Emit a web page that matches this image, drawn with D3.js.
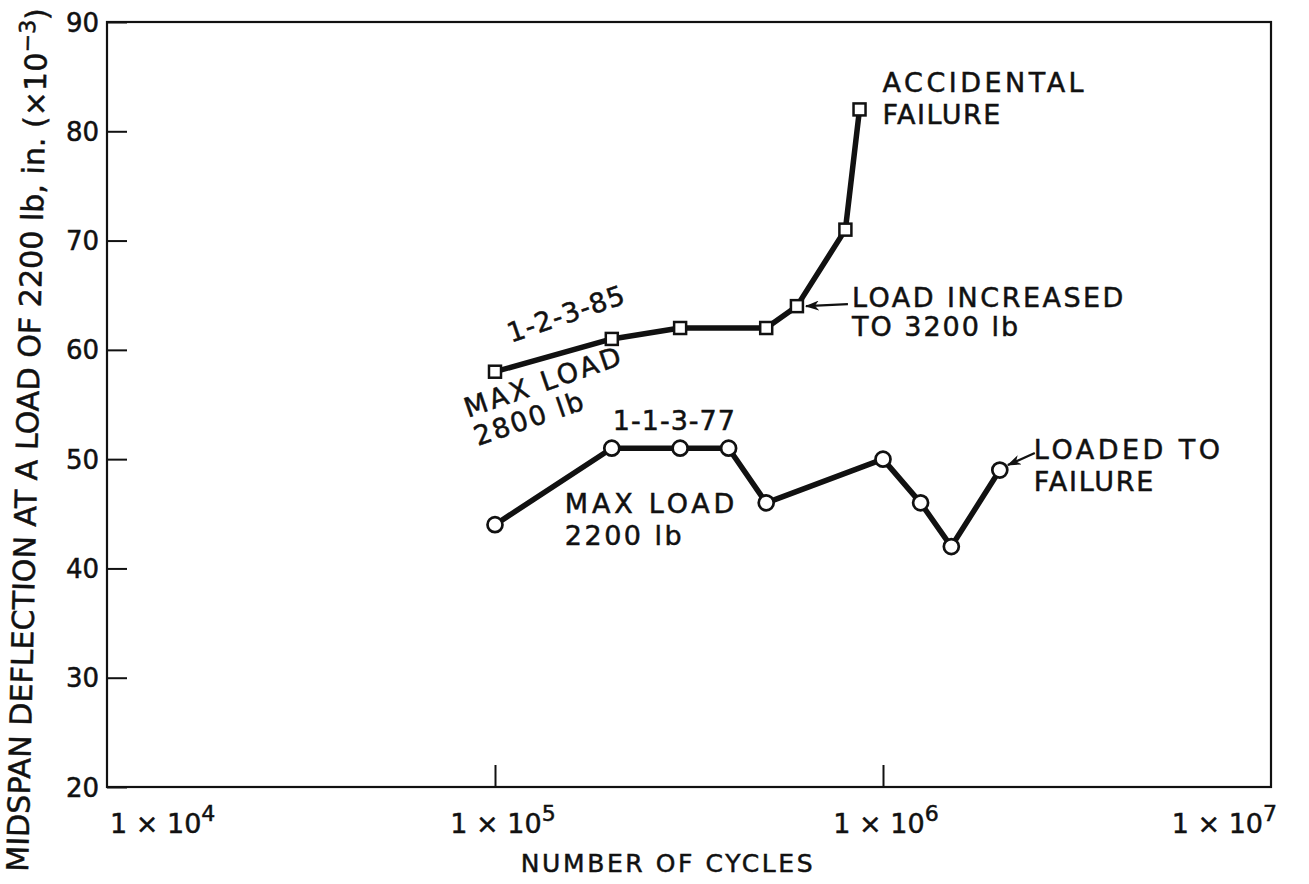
<!DOCTYPE html>
<html>
<head>
<meta charset="utf-8">
<script src="https://cdn.jsdelivr.net/npm/d3@7"></script>
<style>
  html, body { margin: 0; padding: 0; background: #fff; }
  svg text { font-family: "DejaVu Sans", sans-serif; fill: #111; stroke: #111; stroke-width: 0.5px; }
</style>
</head>
<body>
<div id="chart"></div>
<script>
// specimen 1-2-3-85 (max load 2800 lb, squares)
const cyclesA = [1e5, 2e5, 3e5, 5e5, 6e5, 8e5, 8.7e5];
const deflA = [58, 61, 62, 62, 64, 71, 82];

// specimen 1-1-3-77 (max load 2200 lb, circles)
const cyclesB = [1e5, 2e5, 3e5, 4e5, 5e5, 1e6, 1.25e6, 1.5e6, 2e6];
const deflB = [44, 51, 51, 51, 46, 50, 46, 42, 49];

const xTickValues = [1e4, 1e5, 1e6, 1e7];
const xTickExp = ["4", "5", "6", "7"];
const yTickValues = [20, 30, 40, 50, 60, 70, 80, 90];

const width = 1309, height = 884;
const plotLeft = 107, plotRight = 1271, plotTop = 22, plotBottom = 787;

const svg = d3.select("#chart")
  .append("svg")
  .attr("width", width)
  .attr("height", height)
  .attr("viewBox", `0 0 ${width} ${height}`);

const x = d3.scaleLog().domain([1e4, 1e7]).range([plotLeft, plotRight]);
const y = d3.scaleLinear().domain([20, 90]).range([plotBottom, plotTop]);

// frame
svg.append("rect")
  .attr("x", plotLeft).attr("y", plotTop)
  .attr("width", plotRight - plotLeft).attr("height", plotBottom - plotTop)
  .attr("fill", "none").attr("stroke", "#111").attr("stroke-width", 2.2);

// y axis, ticks inside
const yAxis = svg.append("g")
  .attr("transform", `translate(${plotLeft},0)`)
  .call(d3.axisLeft(y).tickValues(yTickValues).tickSize(-20).tickSizeOuter(0).tickPadding(8));
yAxis.select(".domain").remove();
yAxis.selectAll("line").attr("stroke", "#111").attr("stroke-width", 2);
yAxis.selectAll("text")
  .attr("font-size", 26)
  .attr("font-family", "DejaVu Sans")
  .attr("fill", "#111")
  .attr("dy", "0.35em");

// x axis, ticks inside
const xAxis = svg.append("g")
  .attr("transform", `translate(0,${plotBottom})`)
  .call(d3.axisBottom(x).tickValues(xTickValues.slice(1, 3)).tickSize(-22).tickSizeOuter(0).tickFormat(""));
xAxis.select(".domain").remove();
xAxis.selectAll("line").attr("stroke", "#111").attr("stroke-width", 2);

// x tick labels with superscript exponents
xTickValues.forEach((v, i) => {
  const last = xTickValues.length - 1;
  const anchor = i === 0 ? "start" : i === last ? "end" : "middle";
  const shift = i === 0 ? 3 : i === last ? 6 : (i === 1 ? 8 : 3);
  const t = svg.append("text")
    .attr("x", x(v) + shift)
    .attr("y", 833)
    .attr("font-size", 27)
    .attr("text-anchor", anchor);
  t.append("tspan").text("1 × 10");
  t.append("tspan").attr("dy", -12).attr("font-size", 22).text(xTickExp[i]);
});

// axis titles
svg.append("text")
  .attr("x", 668)
  .attr("y", 872)
  .attr("text-anchor", "middle")
  .attr("font-size", 25)
  .attr("letter-spacing", 2.6)
  .text("NUMBER OF CYCLES");

const yTitle = svg.append("text")
  .attr("font-size", 30);
yTitle.append("tspan").text("MIDSPAN DEFLECTION AT A LOAD OF 2200 lb, in. (×10");
yTitle.append("tspan").attr("dy", -12).attr("font-size", 22).text("−3");
yTitle.append("tspan").attr("dy", 12).text(")");
const titleLen = yTitle.node().getComputedTextLength();
yTitle.attr("transform", `translate(28,872) rotate(-88.7) scale(${864 / titleLen},1)`);

// series
const line = d3.line().x(d => x(d[0])).y(d => y(d[1]));
const dataA = cyclesA.map((c, i) => [c, deflA[i]]);
const dataB = cyclesB.map((c, i) => [c, deflB[i]]);

svg.append("path")
  .datum(dataA)
  .attr("d", line)
  .attr("fill", "none").attr("stroke", "#111").attr("stroke-width", 5.5)
  .attr("stroke-linejoin", "round");

svg.append("path")
  .datum(dataB)
  .attr("d", line)
  .attr("fill", "none").attr("stroke", "#111").attr("stroke-width", 5.5)
  .attr("stroke-linejoin", "round");

svg.selectAll(".sq")
  .data(dataA)
  .enter()
  .append("rect")
  .attr("class", "sq")
  .attr("x", d => x(d[0]) - 6)
  .attr("y", d => y(d[1]) - 6)
  .attr("width", 12).attr("height", 12)
  .attr("fill", "#fff").attr("stroke", "#111").attr("stroke-width", 2.5);

svg.selectAll(".circ")
  .data(dataB)
  .enter()
  .append("circle")
  .attr("class", "circ")
  .attr("cx", d => x(d[0]))
  .attr("cy", d => y(d[1]))
  .attr("r", 7.5)
  .attr("fill", "#fff").attr("stroke", "#111").attr("stroke-width", 2.7);

// annotations
svg.append("defs").append("marker")
  .attr("id", "head")
  .attr("viewBox", "0 0 14 10")
  .attr("refX", 13).attr("refY", 5)
  .attr("markerWidth", 14).attr("markerHeight", 10)
  .attr("markerUnits", "userSpaceOnUse")
  .attr("orient", "auto")
  .append("path").attr("d", "M0,0L14,5L0,10L4,5Z").attr("fill", "#111");

function note(px, py, lines, opts = {}) {
  const g = svg.append("g")
    .attr("transform", `translate(${px},${py}) rotate(${opts.rotate || 0})`);
  lines.forEach((s, i) => {
    g.append("text")
      .attr("x", 0).attr("y", i * (opts.lead || 32))
      .attr("font-size", opts.size || 27)
      .attr("letter-spacing", Array.isArray(opts.spacing) ? opts.spacing[i] : (opts.spacing || 1.5))
      .text(s);
  });
}

const pA0 = [x(cyclesA[0]), y(deflA[0])];
note(pA0[0] + 16, pA0[1] - 29, ["1-2-3-85"], { rotate: -19, spacing: 1 });
note(pA0[0] - 27, pA0[1] + 46, ["MAX LOAD", "2800 lb"], { rotate: -19, lead: 30, spacing: [3, 2] });

const pAtop = [x(cyclesA[6]), y(deflA[6])];
note(pAtop[0] + 23, pAtop[1] - 17, ["ACCIDENTAL", "FAILURE"], { spacing: [3.5, 1.5] });

const pA4 = [x(cyclesA[4]), y(deflA[4])];
note(pA4[0] + 55, pA4[1] + 1, ["LOAD INCREASED", "TO 3200 lb"], { lead: 29, spacing: [2.5, 2] });
svg.append("line")
  .attr("x1", pA4[0] + 51).attr("y1", pA4[1] - 2)
  .attr("x2", pA4[0] + 9).attr("y2", pA4[1])
  .attr("stroke", "#111").attr("stroke-width", 2.2)
  .attr("marker-end", "url(#head)");

const pB1 = [x(cyclesB[1]), y(deflB[1])];
note(pB1[0] + 1, pB1[1] - 18, ["1-1-3-77"], { spacing: 1 });
note(pB1[0] - 47, pB1[1] + 65, ["MAX LOAD", "2200 lb"], { spacing: [3.8, 2.5] });

const pBlast = [x(cyclesB[8]), y(deflB[8])];
note(pBlast[0] + 34, pBlast[1] - 11, ["LOADED TO", "FAILURE"], { spacing: [3.5, 1.8] });
svg.append("line")
  .attr("x1", pBlast[0] + 35).attr("y1", pBlast[1] - 17)
  .attr("x2", pBlast[0] + 8).attr("y2", pBlast[1] - 5)
  .attr("stroke", "#111").attr("stroke-width", 2.2)
  .attr("marker-end", "url(#head)");
</script>
</body>
</html>
